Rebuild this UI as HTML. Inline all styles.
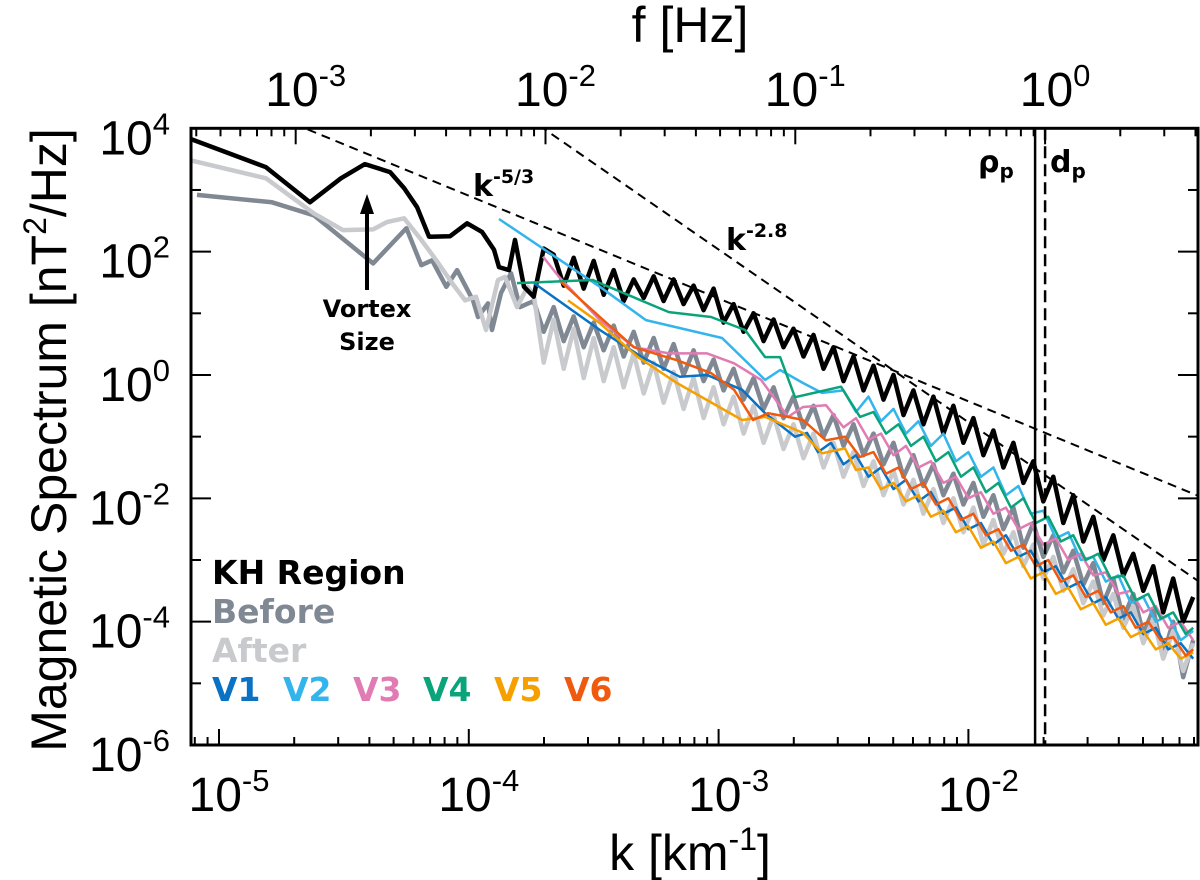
<!DOCTYPE html>
<html><head><meta charset="utf-8"><style>
html,body{margin:0;padding:0;background:#fff;}
svg{display:block;}
.ax{font-family:"Liberation Sans",sans-serif;fill:#000;}
.bd{font-family:"DejaVu Sans","Liberation Sans",sans-serif;font-weight:bold;}
</style></head><body>
<svg id="chart" width="1200" height="880" viewBox="0 0 1200 880" xmlns="http://www.w3.org/2000/svg">
<g id="series"></g>
<g id="axes"></g>
<text class="ax" transform="translate(66,440) rotate(-90)" text-anchor="middle" font-size="50">Magnetic Spectrum [nT<tspan font-size="32" dy="-20">2</tspan><tspan dy="20">/Hz]</tspan></text>
<text class="ax" x="690" y="870" text-anchor="middle" font-size="50">k [km<tspan font-size="32" dy="-20">-1</tspan><tspan dy="20">]</tspan></text>
<text class="ax" x="690" y="42" text-anchor="middle" font-size="50">f [Hz]</text>
<text class="bd" x="473" y="196" font-size="30">k<tspan font-size="19" dy="-13">-5/3</tspan></text>
<text class="bd" x="726" y="250" font-size="30">k<tspan font-size="19" dy="-13">-2.8</tspan></text>
<text class="bd" x="978" y="172" font-size="30">ρ<tspan font-size="20" dy="6">p</tspan></text>
<text class="bd" x="1050" y="172" font-size="30">d<tspan font-size="20" dy="6">p</tspan></text>
<text class="bd" x="367" y="317" text-anchor="middle" font-size="24">Vortex</text>
<text class="bd" x="367" y="350" text-anchor="middle" font-size="24">Size</text>
<line x1="367" y1="290" x2="367" y2="210" stroke="#000" stroke-width="4"/>
<polygon points="367,194 360,214 374,214" fill="#000"/>
<g class="bd" font-size="33">
<text x="212" y="584" fill="#000">KH Region</text>
<text x="212" y="623" fill="#7f8893">Before</text>
<text x="212" y="662" fill="#c8cacd">After</text>
<text x="212" y="701" fill="#0a72c4">V1</text>
<text x="283" y="701" fill="#33b5ec">V2</text>
<text x="353" y="701" fill="#e07bb3">V3</text>
<text x="423" y="701" fill="#0ba37a">V4</text>
<text x="494" y="701" fill="#f6a000">V5</text>
<text x="564" y="701" fill="#f05a0e">V6</text>
</g>
</svg>
<script>
// data in log10 units
const kGrid=[-3.74,-3.70,-3.66,-3.62,-3.58,-3.54,-3.50,-3.46,-3.42,-3.38,-3.34,-3.30,-3.26,-3.22,-3.18,-3.14,-3.10,-3.06,-3.02,-2.98,-2.94,-2.90,-2.86,-2.82,-2.78,-2.74,-2.70,-2.66,-2.62,-2.58,-2.54,-2.50,-2.46,-2.42,-2.38,-2.34,-2.30,-2.26,-2.22,-2.18,-2.14,-2.10,-2.06,-2.02,-1.98,-1.94,-1.90,-1.86,-1.82,-1.78,-1.74,-1.70,-1.66,-1.62,-1.58,-1.54,-1.50,-1.46,-1.42,-1.38,-1.34,-1.30,-1.26,-1.22,-1.18,-1.14,-1.10];
const khLowK=[-5.112,-4.812,-4.636,-4.512,-4.416,-4.315,-4.259,-4.207,-4.159,-4.075,-4.007,-3.947,-3.899,-3.879,-3.839,-3.815,-3.779];
const khLowP=[3.825,3.37,2.80,3.19,3.42,3.29,3.03,2.72,2.24,2.25,2.46,2.32,2.03,1.75,1.70,2.19,1.43];
const khGridP=[1.27,2.05,1.95,1.45,1.90,1.40,1.85,1.30,1.70,1.20,1.55,1.25,1.60,1.20,1.55,1.15,1.45,1.05,1.40,0.85,1.15,0.70,1.00,0.55,0.90,0.45,0.75,0.30,0.65,0.10,0.45,-0.10,0.30,-0.25,0.15,-0.40,0.00,-0.65,-0.25,-0.80,-0.35,-0.95,-0.50,-1.10,-0.70,-1.30,-0.90,-1.50,-1.10,-1.75,-1.40,-2.05,-1.65,-2.40,-1.95,-2.70,-2.30,-3.00,-2.60,-3.25,-2.90,-3.50,-3.10,-3.85,-3.30,-4.00,-3.60];
const beforeLowK=[-5.088,-4.788,-4.62,-4.383,-4.25,-4.19,-4.147,-4.09,-4.047,-3.983,-3.963,-3.923,-3.907,-3.871,-3.831,-3.795];
const beforeLowP=[2.92,2.80,2.59,1.81,2.38,1.78,1.86,1.43,1.70,1.21,0.94,1.16,0.73,1.33,1.65,1.10];
const beforeGridP=[1.20,0.70,1.10,0.55,0.95,0.45,0.85,0.40,0.80,0.30,0.70,0.20,0.60,0.10,0.50,0.00,0.40,-0.10,0.25,-0.25,0.10,-0.40,-0.05,-0.55,-0.20,-0.70,-0.35,-0.85,-0.50,-1.00,-0.65,-1.15,-0.80,-1.30,-0.95,-1.45,-1.10,-1.65,-1.30,-1.80,-1.45,-1.95,-1.60,-2.10,-1.75,-2.30,-1.95,-2.50,-2.15,-2.80,-2.40,-2.95,-2.60,-3.20,-2.85,-3.40,-3.05,-3.70,-3.30,-3.95,-3.55,-4.20,-3.80,-4.55,-4.00,-4.90,-4.30];
const afterLowK=[-5.112,-4.812,-4.62,-4.504,-4.383,-4.327,-4.259,-4.19,-4.13,-4.067,-4.015,-3.971,-3.931,-3.883,-3.855,-3.807,-3.765];
const afterLowP=[3.48,3.19,2.62,2.35,2.36,2.48,2.54,2.19,1.86,1.49,1.21,1.27,0.73,1.54,1.59,1.10,1.43];
const afterGridP=[1.30,0.20,0.90,0.10,0.75,-0.05,0.60,-0.10,0.45,-0.20,0.35,-0.30,0.20,-0.45,0.05,-0.55,-0.05,-0.70,-0.20,-0.80,-0.35,-0.95,-0.50,-1.10,-0.65,-1.20,-0.80,-1.35,-0.95,-1.50,-1.10,-1.65,-1.25,-1.80,-1.40,-1.95,-1.55,-2.10,-1.70,-2.25,-1.85,-2.40,-2.00,-2.55,-2.15,-2.75,-2.35,-2.90,-2.55,-3.10,-2.75,-3.30,-2.95,-3.50,-3.15,-3.70,-3.35,-3.90,-3.55,-4.10,-3.75,-4.35,-3.95,-4.60,-4.15,-4.80,-4.35];
const v1K=[-3.739,-3.475,-3.307,-3.155,-3.046,-2.906,-2.814,-2.694,-2.646,-2.602,-2.55,-2.50,-2.45,-2.40,-2.35,-2.30,-2.25,-2.20,-2.15,-2.10,-2.05,-2.00,-1.95,-1.90,-1.85,-1.80,-1.75,-1.70,-1.65,-1.60,-1.55,-1.50,-1.45,-1.40,-1.35,-1.30,-1.25,-1.20,-1.15,-1.10];
const v1P=[1.49,0.73,0.29,-0.03,0.00,-0.24,-0.62,-1.0,-0.94,-1.25,-1.10,-1.45,-1.30,-1.65,-1.50,-1.85,-1.70,-2.05,-1.90,-2.25,-2.15,-2.50,-2.40,-2.75,-2.60,-2.95,-2.85,-3.20,-3.10,-3.45,-3.35,-3.70,-3.60,-3.95,-3.85,-4.20,-4.10,-4.45,-4.35,-4.60];
const v2K=[-3.879,-3.475,-3.291,-2.986,-2.814,-2.754,-2.662,-2.586,-2.50,-2.45,-2.40,-2.35,-2.30,-2.25,-2.20,-2.15,-2.10,-2.05,-2.00,-1.95,-1.90,-1.85,-1.80,-1.75,-1.70,-1.65,-1.60,-1.55,-1.50,-1.45,-1.40,-1.35,-1.30,-1.25,-1.20,-1.15,-1.10];
const v2P=[2.53,1.43,0.89,0.60,-0.08,0.08,-0.13,-0.29,-0.25,-0.6,-0.35,-0.75,-0.55,-0.95,-0.75,-1.15,-0.95,-1.40,-1.25,-1.65,-1.50,-1.95,-1.80,-2.25,-2.20,-2.65,-2.55,-3.00,-2.95,-3.35,-3.25,-3.70,-3.60,-4.00,-3.90,-4.30,-4.15];
const v3K=[-3.703,-3.639,-3.475,-3.339,-3.199,-3.046,-2.938,-2.83,-2.722,-2.662,-2.57,-2.50,-2.45,-2.40,-2.35,-2.30,-2.25,-2.20,-2.15,-2.10,-2.05,-2.00,-1.95,-1.90,-1.85,-1.80,-1.75,-1.70,-1.65,-1.60,-1.55,-1.50,-1.45,-1.40,-1.35,-1.30,-1.25,-1.20,-1.15,-1.10];
const v3P=[1.92,1.59,0.89,0.45,0.35,0.35,0.19,-0.08,-0.68,-0.52,-0.49,-0.85,-0.70,-1.05,-0.95,-1.30,-1.15,-1.50,-1.40,-1.75,-1.65,-2.00,-1.90,-2.25,-2.15,-2.50,-2.40,-2.75,-2.65,-3.00,-2.90,-3.25,-3.20,-3.55,-3.50,-3.85,-3.75,-4.10,-4.00,-4.30];
const v4K=[-3.807,-3.503,-3.475,-3.199,-3.03,-2.894,-2.814,-2.754,-2.694,-2.618,-2.51,-2.434,-2.38,-2.33,-2.28,-2.23,-2.18,-2.13,-2.08,-2.03,-1.98,-1.93,-1.88,-1.83,-1.78,-1.73,-1.68,-1.63,-1.58,-1.53,-1.48,-1.43,-1.38,-1.33,-1.28,-1.23,-1.18,-1.13,-1.10];
const v4P=[1.49,1.54,1.49,1.02,0.94,0.73,0.29,0.29,-0.36,-0.29,-0.19,-0.68,-0.60,-0.95,-0.80,-1.15,-1.00,-1.40,-1.25,-1.65,-1.50,-1.90,-1.75,-2.15,-2.00,-2.40,-2.30,-2.70,-2.60,-3.00,-2.90,-3.30,-3.25,-3.65,-3.55,-3.95,-3.85,-4.20,-4.10];
const v5K=[-3.603,-3.475,-3.323,-3.167,-2.906,-2.814,-2.662,-2.586,-2.494,-2.45,-2.40,-2.35,-2.30,-2.25,-2.20,-2.15,-2.10,-2.05,-2.00,-1.95,-1.90,-1.85,-1.80,-1.75,-1.70,-1.65,-1.60,-1.55,-1.50,-1.45,-1.40,-1.35,-1.30,-1.25,-1.20,-1.15,-1.10];
const v5P=[1.21,0.84,0.29,-0.13,-0.73,-0.68,-0.94,-1.27,-1.19,-1.54,-1.50,-1.85,-1.75,-2.05,-1.95,-2.30,-2.20,-2.55,-2.45,-2.80,-2.70,-3.05,-2.95,-3.30,-3.20,-3.55,-3.45,-3.80,-3.70,-4.05,-3.95,-4.25,-4.15,-4.45,-4.35,-4.60,-4.50];
const v6K=[-3.631,-3.475,-3.339,-3.167,-3.03,-2.938,-2.862,-2.802,-2.722,-2.662,-2.57,-2.494,-2.434,-2.38,-2.33,-2.28,-2.23,-2.18,-2.13,-2.08,-2.03,-1.98,-1.93,-1.88,-1.83,-1.78,-1.73,-1.68,-1.63,-1.58,-1.53,-1.48,-1.43,-1.38,-1.33,-1.28,-1.23,-1.18,-1.13,-1.10];
const v6P=[1.51,0.94,0.45,0.24,0.03,-0.24,-0.73,-0.62,-0.68,-0.73,-1.06,-1.0,-1.33,-1.25,-1.60,-1.50,-1.85,-1.75,-2.10,-2.00,-2.35,-2.25,-2.60,-2.50,-2.85,-2.75,-3.10,-3.00,-3.35,-3.25,-3.60,-3.50,-3.85,-3.75,-4.10,-4.00,-4.30,-4.25,-4.55,-4.45];
const xTicks=[-5,-4,-3,-2];
const yTicks=[4,2,0,-2,-4,-6];
const fTicks=[-3,-2,-1,0];
const slopeLines=[[-5/3,-4.668,4.02],[-2.8,-3.72,4.05]]; // [slope, logk anchor, logP at anchor]
const rhoP=-1.733, dP=-1.693;

const L=191,R=1198,T=128.3,B=745;
const X=lk=>219+(lk+5)*249.8;
const Y=lp=>128.3+(4-lp)*61.67;
const fOff=1.693; // log f = log k + fOff
const NS="http://www.w3.org/2000/svg";
const S=document.getElementById('series'), A=document.getElementById('axes');
function mk(tag,at,par){const e=document.createElementNS(NS,tag);for(const k in at)e.setAttribute(k,at[k]);par.appendChild(e);return e;}
const cp=mk('clipPath',{id:'pc'},S);mk('rect',{x:L,y:T,width:R-L,height:B-T},cp);
function line(ks,ps,color,w,name){
  const d=ks.map((k,i)=>(i?'L':'M')+X(k).toFixed(1)+','+Y(ps[i]).toFixed(1)).join('');
  const p=mk('path',{d:d,fill:'none',stroke:color,'stroke-width':w,'stroke-linejoin':'round','clip-path':'url(#pc)'},S);
  
  
}
line(beforeLowK.concat(kGrid),beforeLowP.concat(beforeGridP),'#7f8893',4.5,'before-series');
line(afterLowK.concat(kGrid),afterLowP.concat(afterGridP),'#c8cacd',4.5,'after-series');
line(khLowK.concat(kGrid),khLowP.concat(khGridP),'#000',4.5,'kh-region-series');
line(v1K,v1P,'#0a72c4',2.5,'v1-series');
line(v2K,v2P,'#33b5ec',2.5,'v2-series');
line(v3K,v3P,'#e07bb3',2.5,'v3-series');
line(v4K,v4P,'#0ba37a',2.5,'v4-series');
line(v5K,v5P,'#f6a000',2.5,'v5-series');
line(v6K,v6P,'#f05a0e',2.5,'v6-series');
slopeLines.forEach((s,i)=>{
  const k0=-5.2,k1=-1.0;
  const p=mk('line',{x1:X(k0),y1:Y(s[2]+s[0]*(k0-s[1])),x2:X(k1),y2:Y(s[2]+s[0]*(k1-s[1])),stroke:'#000','stroke-width':2,'stroke-dasharray':'9,6','clip-path':'url(#pc)'},S);
  
  
});
const rl=mk('line',{x1:X(rhoP),x2:X(rhoP),y1:T,y2:B,stroke:'#000','stroke-width':2.5},S);


const dl=mk('line',{x1:X(dP),x2:X(dP),y1:T,y2:B,stroke:'#000','stroke-width':2.5,'stroke-dasharray':'12,6'},S);


const fr=mk('rect',{x:L,y:T,width:R-L,height:B-T,fill:'none',stroke:'#000','stroke-width':3},A);


function tk(x1,y1,x2,y2){mk('line',{x1:x1,y1:y1,x2:x2,y2:y2,stroke:'#000','stroke-width':2},A);}
for(let d=-6;d<=-1;d++)for(let m=1;m<10;m++){const lk=d+Math.log10(m);const x=X(lk);if(x<L||x>R)continue;const len=m==1?16:8;tk(x,B,x,B-len);}
for(let d=-4;d<=1;d++)for(let m=1;m<10;m++){const lk=d+Math.log10(m)-fOff;const x=X(lk);if(x<L||x>R)continue;const len=m==1?16:8;tk(x,T,x,T+len);}
for(let d=-6;d<=4;d++){const y=Y(d);const len=d%2==0?20:10;tk(L,y,L+len,y);tk(R,y,R-len,y);}
function sup(x,y,e,name,anchor){
  const t=mk('text',{x:x,y:y,'text-anchor':anchor||'middle','font-size':48,class:'ax'},A);
  
  
  t.textContent='10';
  const s=mk('tspan',{'font-size':31,dy:-20},t);s.textContent=e;
}
xTicks.forEach(v=>{sup(X(v)+10,811,String(v),'x-tick-label');});
fTicks.forEach(v=>{sup(X(v-fOff)+10,106,String(v),'top-tick-label');});
yTicks.forEach(v=>{sup(170,Y(v)+26,String(v),'y-tick-label','end');});
</script>
</body></html>
